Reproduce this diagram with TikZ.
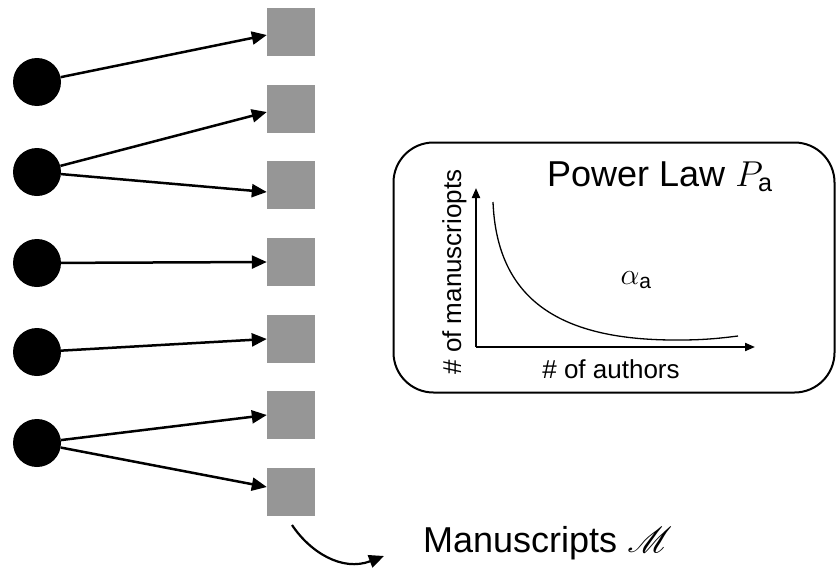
\RequirePackage{fix-cm}
\documentclass[tikz,border=0pt]{standalone}
\usepackage{fontspec}
\setmainfont{Liberation Sans}
\usepackage{mathrsfs}
\usepackage{graphicx}
\usetikzlibrary{arrows.meta}
\definecolor{sqgray}{RGB}{150,150,150}
\begin{document}
\begin{tikzpicture}[x=1pt,y=-1pt,
  author/.style={circle,fill=black,minimum size=48pt,inner sep=0pt},
  manu/.style={rectangle,fill=sqgray,minimum size=48pt,inner sep=0pt},
  link/.style={line width=2.5pt,-{Triangle[length=15pt,width=13pt]}},
  axis/.style={line width=2pt,-{Triangle[length=10pt,width=8pt]}},
  lbl/.style={inner sep=0pt,font=\fontsize{26}{30}\selectfont}]
\useasboundingbox (0,0) rectangle (837,570);
% authors
\node[author] (c1) at (37,82) {};
\node[author] (c2) at (37,172) {};
\node[author] (c3) at (37,263) {};
\node[author] (c4) at (37,352) {};
\node[author] (c5) at (37,443) {};
% manuscripts
\node[manu] (s1) at (291,32) {};
\node[manu] (s2) at (291,109) {};
\node[manu] (s3) at (291,185) {};
\node[manu] (s4) at (291,262) {};
\node[manu] (s5) at (291,339) {};
\node[manu] (s6) at (291,415) {};
\node[manu] (s7) at (291,492) {};
% links
\draw[link] (c1) -- ([yshift=-3pt]s1.west);
\draw[link] (c2) -- ([yshift=-3pt]s2.west);
\draw[link] (c2) -- ([yshift=-7pt]s3.west);
\draw[link] (c3) -- (s4.west);
\draw[link] (c4) -- (s5.west);
\draw[link] (c5) -- (s6.west);
\draw[link] (c5) -- ([yshift=5pt]s7.west);
% manuscripts label
\coordinate (ma) at (292,525);
\coordinate (mb) at (384,556);
\draw[line width=2.2pt,-{Triangle[length=15pt,width=13pt]}] (ma) .. controls (310,552) and (342,572) .. (mb);
\node[anchor=base west,inner sep=0pt,font=\fontsize{36}{40}\selectfont] (mlabel) at (423,552) {Manuscripts \scalebox{1.45}{$\mathscr{M}$}};
% power law box
\node[draw,line width=2pt,rounded corners=40pt,minimum width=441pt,minimum height=250pt,inner sep=0pt] (box) at (614,267.5) {};
\node[anchor=base west,inner sep=0pt,font=\fontsize{36}{40}\selectfont] (title) at (547,186) {Power Law $P_{\mathrm{a}}$};
\coordinate (o) at (476,347);
\coordinate (ytop) at (476,188);
\coordinate (xend) at (755,347);
\draw[axis] (o) -- (ytop);
\draw[axis] (o) -- (xend);
\coordinate (cs) at (493,202);
\coordinate (cm) at (680,340);
\coordinate (ce) at (738,336);
\draw[line width=1.3pt] (cs) .. controls (497,300) and (560,341) .. (cm) .. controls (705,340) and (722,338) .. (ce);
\node[inner sep=0pt,font=\fontsize{30}{34}\selectfont] (alpha) at (636,280) {$\alpha_{\mathrm{a}}$};
\node[lbl,anchor=base] (xl) at (611,378) {\# of authors};
\node[lbl,rotate=90,anchor=base] (yl) at (461,272) {\# of manuscriopts};
\end{tikzpicture}
\end{document}
